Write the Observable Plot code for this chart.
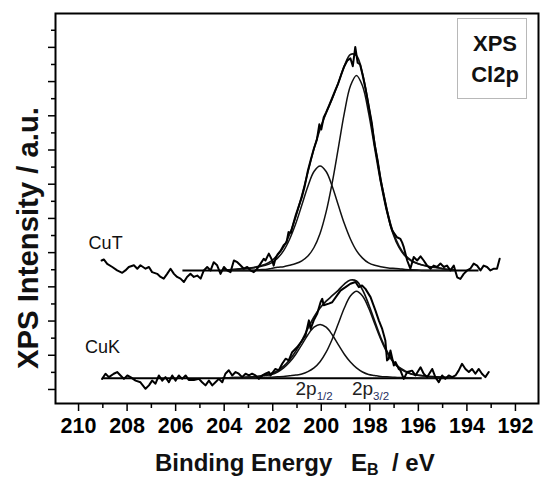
<!DOCTYPE html>
<html>
<head>
<meta charset="utf-8">
<script src="https://cdn.jsdelivr.net/npm/d3@7"></script>
<script src="https://cdn.jsdelivr.net/npm/@observablehq/plot@0.6"></script>
<style>
  html, body { margin: 0; padding: 0; background: #fff; }
  #chart { width: 544px; height: 479px; }
</style>
</head>
<body>
<div id="chart"></div>
<script>
// ---- fitted component curves (height above the baseline, a.u.) ----
const fitEnergy = [204.05, 203.80, 203.55, 203.30, 203.05, 202.80, 202.55, 202.30, 202.05, 201.80,
  201.55, 201.30, 201.05, 200.80, 200.55, 200.30, 200.05, 199.80, 199.55, 199.30,
  199.05, 198.80, 198.55, 198.30, 198.05, 197.80, 197.55, 197.30, 197.05, 196.80,
  196.55, 196.30, 196.05, 195.80, 195.55, 195.30, 195.05, 194.80, 194.55];

const cuT_p12 = [0.01, 0.02, 0.03, 0.05, 0.06, 0.08, 0.11, 0.15, 0.22, 0.36, 0.58, 0.92, 1.37, 1.91, 2.46, 2.89, 3.05,
  2.89, 2.46, 1.91, 1.37, 0.92, 0.58, 0.36, 0.22, 0.15, 0.11, 0.08, 0.06, 0.05, 0.03, 0.02, 0.01, 0, 0, 0, 0, 0, 0];
const cuT_p32 = [0, 0, 0, 0, 0, 0, 0.02, 0.03, 0.06, 0.09, 0.11, 0.15, 0.20, 0.28, 0.42, 0.67, 1.08, 1.71, 2.56, 3.57,
  4.60, 5.39, 5.70, 5.39, 4.60, 3.57, 2.56, 1.71, 1.08, 0.67, 0.42, 0.28, 0.20, 0.15, 0.11, 0.09, 0.06, 0.03, 0.02];
const cuK_p12 = [0.00, 0.01, 0.02, 0.02, 0.03, 0.04, 0.05, 0.08, 0.11, 0.18, 0.30, 0.47, 0.70, 0.98, 1.27, 1.49, 1.57,
  1.49, 1.27, 0.98, 0.70, 0.47, 0.30, 0.18, 0.11, 0.08, 0.05, 0.04, 0.03, 0.02, 0.02, 0.01, 0, 0, 0, 0, 0, 0, 0];
const cuK_p32 = [0, 0, 0, 0, 0, 0, 0.01, 0.02, 0.03, 0.04, 0.05, 0.07, 0.09, 0.12, 0.19, 0.30, 0.48, 0.76, 1.14, 1.59,
  2.05, 2.40, 2.54, 2.40, 2.05, 1.59, 1.14, 0.76, 0.48, 0.30, 0.19, 0.12, 0.09, 0.07, 0.05, 0.04, 0.03, 0.02, 0.01];

// ---- measured spectra [binding energy eV, intensity a.u.] ----
const cuT_data = [
  [209.05,3.77],[208.96,3.80],[208.82,3.67],[208.61,3.58],[208.41,3.48],[208.20,3.41],[208.07,3.48],[207.93,3.58],
  [207.72,3.63],[207.58,3.53],[207.45,3.63],[207.24,3.53],[207.10,3.58],[206.97,3.43],[206.76,3.38],[206.62,3.29],
  [206.49,3.24],[206.35,3.38],[206.21,3.53],[206.07,3.38],[205.94,3.29],[205.80,3.24],[205.66,3.14],[205.53,3.29],
  [205.39,3.38],[205.25,3.29],[205.11,3.33],[204.97,3.24],[204.84,3.48],[204.70,3.58],[204.56,3.48],[204.43,3.72],
  [204.29,3.63],[204.15,3.38],[204.01,3.58],[203.88,3.48],[203.74,3.43],[203.60,3.77],[203.46,3.72],[203.33,3.63],
  [203.19,3.53],[203.05,3.58],[202.92,3.48],[202.78,3.43],[202.64,3.53],[202.50,3.68],[202.37,3.82],[202.30,3.77],
  [202.16,3.97],[202.02,3.77],[201.96,3.62],[201.89,3.82],[201.80,3.95],[201.68,4.05],[201.55,4.22],[201.43,4.30],
  [201.35,4.60],[201.25,4.58],[201.15,4.85],[201.05,5.10],[200.93,5.35],[200.80,5.62],[200.68,5.95],[200.55,6.40],
  [200.43,6.72],[200.30,7.05],[200.18,7.30],[200.08,7.75],[200.00,7.60],[199.90,7.95],[199.80,8.10],[199.68,8.30],
  [199.55,8.52],[199.42,8.75],[199.30,8.95],[199.18,9.20],[199.05,9.45],[198.92,9.62],[198.80,9.68],[198.70,9.45],
  [198.60,10.01],[198.50,9.55],[198.40,9.50],[198.30,9.20],[198.18,8.80],[198.05,8.30],[197.92,7.80],[197.80,7.15],
  [197.68,6.70],[197.55,6.10],[197.43,5.70],[197.30,5.25],[197.15,4.80],[197.08,4.65],[196.98,4.55],[196.88,4.45],
  [196.74,4.40],[196.67,4.30],[196.60,4.16],[196.46,3.77],[196.33,3.53],[196.19,3.87],[196.05,3.77],[195.91,3.89],
  [195.78,3.77],[195.64,3.62],[195.50,3.53],[195.37,3.62],[195.23,3.58],[195.09,3.68],[194.95,3.58],[194.82,3.62],
  [194.68,3.48],[194.54,3.62],[194.40,3.28],[194.27,3.23],[194.13,3.38],[193.99,3.48],[193.86,3.53],[193.72,3.68],
  [193.58,3.62],[193.44,3.48],[193.31,3.62],[193.17,3.58],[193.03,3.48],[192.89,3.53],[192.76,3.53],[192.65,3.82]
];
const cuK_data = [
  [209.03,0.31],[208.89,0.46],[208.75,0.36],[208.55,0.46],[208.41,0.51],[208.27,0.41],[208.13,0.31],[207.99,0.41],
  [207.86,0.36],[207.65,0.26],[207.45,0.21],[207.24,0.02],[207.10,0.12],[206.97,0.26],[206.83,0.17],[206.69,0.41],
  [206.55,0.26],[206.42,0.36],[206.28,0.21],[206.14,0.41],[206.00,0.26],[205.87,0.41],[205.73,0.31],[205.59,0.41],
  [205.46,0.28],[205.25,0.28],[205.04,0.31],[204.91,0.21],[204.77,0.12],[204.63,0.26],[204.49,0.12],[204.36,0.21],
  [204.22,0.31],[204.08,0.21],[203.95,0.46],[203.81,0.56],[203.67,0.41],[203.53,0.51],[203.40,0.46],[203.26,0.36],
  [203.12,0.46],[202.98,0.41],[202.85,0.46],[202.71,0.41],[202.57,0.31],[202.43,0.41],[202.30,0.46],[202.16,0.51],
  [202.09,0.41],[201.89,0.60],[201.75,0.56],[201.61,0.75],[201.47,0.90],[201.34,0.85],[201.20,1.09],[200.99,1.24],
  [200.79,1.43],[200.65,1.58],[200.51,2.02],[200.44,1.77],[200.31,2.02],[200.17,2.21],[200.03,2.55],[199.96,2.65],
  [199.90,2.46],[199.69,2.51],[199.55,2.55],[199.35,2.75],[199.21,2.89],[199.00,2.99],[198.80,3.09],[198.59,3.14],
  [198.45,2.99],[198.32,3.04],[198.18,2.94],[197.97,2.70],[197.77,2.31],[197.63,2.02],[197.49,1.77],[197.36,1.43],
  [197.29,0.85],[197.22,0.90],[197.15,1.14],[197.01,0.70],[196.94,0.80],[196.81,0.60],[196.74,0.56],[196.60,0.31],
  [196.46,0.51],[196.26,0.55],[196.12,0.41],[195.91,0.65],[195.78,0.46],[195.64,0.36],[195.43,0.60],[195.30,0.36],
  [195.16,0.21],[195.02,0.41],[194.89,0.31],[194.75,0.41],[194.61,0.36],[194.47,0.41],[194.34,0.55],[194.20,0.75],
  [194.06,0.60],[193.92,0.51],[193.79,0.60],[193.65,0.46],[193.51,0.60],[193.38,0.46],[193.24,0.36],[193.10,0.51]
];

// ---- samples, baselines, peaks, ticks ----
const sampleNames = ["CuT", "CuK"];
const baselineLevel = [3.48, 0.33];
const baselineFrom = [205.70, 208.97];
const baselineTo = [193.50, 193.37];
const peakCenters = [200.05, 198.55];
const peakMain = ["2p", "2p"];
const peakSub = ["1/2", "3/2"];
const xTickValues = [210, 208, 206, 204, 202, 200, 198, 196, 194, 192];
const xMinorTicks = [209, 207, 205, 203, 201, 199, 197, 195, 193];
const yMajorTicks = [0, 1, 2, 3, 4, 5, 6, 7, 8, 9, 10];
const yMinorTicks = [0.5, 1.5, 2.5, 3.5, 4.5, 5.5, 6.5, 7.5, 8.5, 9.5, 10.5];
const xTitle = "Binding Energy", xTitleSymbol = "E", xTitleSub = "B", xTitleUnit = "/ eV";
const yTitle = "XPS Intensity / a.u.";
const boxLines = ["XPS", "Cl2p"];

// ---- build tables ----
const components = [
  {s: 0, list: [cuT_p12, cuT_p32]},
  {s: 1, list: [cuK_p12, cuK_p32]}
];
const compRows = [];
const envRows = [];
components.forEach(({s, list}) => {
  const base = baselineLevel[s];
  list.forEach((arr, j) => arr.forEach((v, i) => compRows.push({E: fitEnergy[i], y: base + v, key: sampleNames[s] + j})));
  fitEnergy.forEach((E, i) => envRows.push({E, y: base + list[0][i] + list[1][i], key: sampleNames[s]}));
});
const dataRows = [];
[cuT_data, cuK_data].forEach((arr, s) => arr.forEach(([E, I]) => dataRows.push({E, I, sample: sampleNames[s]})));
const baseRows = baselineLevel.map((y, i) => ({y, x1: baselineFrom[i], x2: baselineTo[i]}));
const labelT = [{name: sampleNames[0], E: cuT_data[0][0], I: cuT_data[0][1]}];
const labelK = [{name: sampleNames[1], E: cuK_data[0][0], I: cuK_data[0][1]}];

const font = "'Liberation Sans', Arial, Helvetica, sans-serif";

const chart = Plot.plot({
  width: 544,
  height: 479,
  marginLeft: 55,
  marginRight: 6,
  marginTop: 13,
  marginBottom: 76,
  x: {domain: [210.95, 191.05], label: null},
  y: {domain: [-0.41, 10.99], label: null},
  style: {fontFamily: font, background: "white", color: "black", overflow: "visible"},
  marks: [
    Plot.ruleY(baseRows, {y: "y", x1: "x1", x2: "x2", stroke: "black", strokeWidth: 2}),
    Plot.line(compRows, {x: "E", y: "y", z: "key", stroke: "#111", strokeWidth: 1.5, curve: "catmull-rom"}),
    Plot.line(envRows, {x: "E", y: "y", z: "key", stroke: "#111", strokeWidth: 1.7, curve: "catmull-rom"}),
    Plot.line(dataRows, {x: "E", y: "I", z: "sample", stroke: "black", strokeWidth: 2, strokeLinejoin: "round"}),
    Plot.text(labelT, {x: "E", y: "I", text: "name", textAnchor: "start", dx: -13, dy: -17, fontSize: 18, fill: "#111"}),
    Plot.text(labelK, {x: "E", y: "I", text: "name", textAnchor: "start", dx: -17, dy: -32, fontSize: 18, fill: "#111"}),
    Plot.axisX(xTickValues, {tickSize: 8, tickPadding: 6, fontSize: 21.5, fontWeight: "bold", strokeWidth: 1.5, label: null, tickFormat: d => String(d)}),
    Plot.axisX(xMinorTicks, {tickSize: 5, strokeWidth: 1.5, label: null, tickFormat: () => ""}),
    Plot.axisY(yMajorTicks, {tickSize: 7, strokeWidth: 1.5, label: null, tickFormat: () => ""}),
    Plot.axisY(yMinorTicks, {tickSize: 4, strokeWidth: 1.5, label: null, tickFormat: () => ""}),
    Plot.frame({stroke: "black", strokeWidth: 2})
  ]
});
document.getElementById("chart").appendChild(chart);

// ---- annotations using the plot's own scales ----
const xs = chart.scale("x"), ys = chart.scale("y");
const svg = d3.select(chart);

// peak labels 2p1/2, 2p3/2 under the CuK fit
const peakOffsets = [-24, -4];
peakCenters.forEach((c, i) => {
  const t = svg.append("text")
    .attr("x", xs.apply(c) + peakOffsets[i])
    .attr("y", ys.apply(baselineLevel[1]) + 17)
    .attr("text-anchor", "start")
    .attr("font-family", font).attr("font-size", 19).attr("fill", "#222")
    .text(peakMain[i]);
  t.append("tspan").attr("font-size", 11.5).attr("dy", 5).attr("fill", "#1f2f5f").text(peakSub[i]);
});

// legend box
svg.append("rect").attr("x", 457.5).attr("y", 18.5).attr("width", 69).attr("height", 80)
  .attr("fill", "white").attr("stroke", "#b8b8b8").attr("stroke-width", 1);
boxLines.forEach((s, i) => {
  svg.append("text").attr("x", 495).attr("y", i === 0 ? 50.5 : 82)
    .attr("text-anchor", "middle").attr("font-family", font).attr("font-weight", "bold")
    .attr("font-size", 22).attr("fill", "#111").text(s);
});

// x title
const xt = svg.append("text").attr("x", 155).attr("y", 471).attr("text-anchor", "start")
  .attr("font-family", font).attr("font-weight", "bold").attr("font-size", 24).attr("fill", "#111");
xt.append("tspan").text(xTitle);
xt.append("tspan").attr("x", 351).text(xTitleSymbol);
xt.append("tspan").attr("font-size", 16).attr("dy", 4).text(xTitleSub);
xt.append("tspan").attr("x", 392).attr("dy", -4).text(xTitleUnit);

// y title
svg.append("text").attr("transform", "translate(38,238) rotate(-90)")
  .attr("text-anchor", "middle").attr("font-family", font).attr("font-weight", "bold")
  .attr("font-size", 30).attr("textLength", 262).attr("lengthAdjust", "spacingAndGlyphs")
  .attr("fill", "#111").text(yTitle);
</script>
</body>
</html>
